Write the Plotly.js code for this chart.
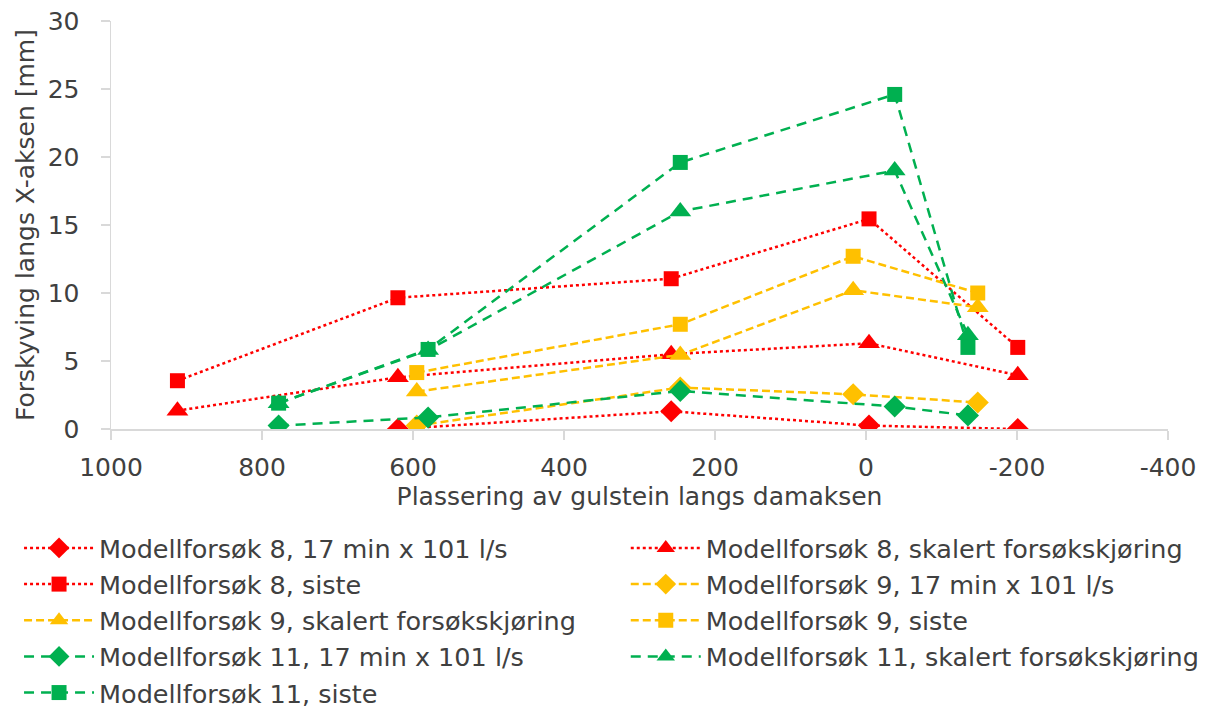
<!DOCTYPE html>
<html>
<head>
<meta charset="utf-8">
<script src="https://cdn.plot.ly/plotly-3.0.1.min.js"></script>
<style>html,body{margin:0;padding:0;background:#fff}#chart{width:1221px;height:715px}</style>
</head>
<body>
<div id="chart"></div>
<script>
// Positions along the dam axis (x values)
const x8_17 = [620, 258, -4, -201];
const x8 = [912, 620, 258, -4, -201];
const x9 = [595, 246, 17, -148];
const x11 = [778, 580, 246, -38, -135];

// Displacement values [mm]
const m8_17 = [0.0, 1.3, 0.25, 0.0];
const m8_skal = [1.35, 3.8, 5.5, 6.3, 3.95];
const m8_siste = [3.55, 9.65, 11.05, 15.45, 6.0];
const m9_17 = [0.25, 3.05, 2.55, 1.95];
const m9_skal = [2.75, 5.45, 10.2, 8.95];
const m9_siste = [4.15, 7.7, 12.7, 10.0];
const m11_17 = [0.25, 0.85, 2.8, 1.65, 1.0];
const m11_skal = [1.9, 5.8, 16.0, 19.0, 6.9];
const m11_siste = [1.9, 5.85, 19.6, 24.6, 6.0];

const names = [
  "Modellforsøk 8, 17 min x 101 l/s",
  "Modellforsøk 8, skalert forsøkskjøring",
  "Modellforsøk 8, siste",
  "Modellforsøk 9, 17 min x 101 l/s",
  "Modellforsøk 9, skalert forsøkskjøring",
  "Modellforsøk 9, siste",
  "Modellforsøk 11, 17 min x 101 l/s",
  "Modellforsøk 11, skalert forsøkskjøring",
  "Modellforsøk 11, siste"
];
const xTicks = [1000, 800, 600, 400, 200, 0, -200, -400];
const xTickText = ["1000", "800", "600", "400", "200", "0", "-200", "-400"];
const yTicks = [0, 5, 10, 15, 20, 25, 30];

const RED = "#FF0000", YEL = "#FFC000", GRN = "#00B050";
const redDash = "dot", yelDash = "8px,4px", grnDash = "10px,7px";

function tr(name, x, y, color, dash, symbol, size, leg) {
  return {
    type: "scatter", mode: "lines+markers", name: name, x: x, y: y,
    legend: leg,
    line: {color: color, width: 2.5, dash: dash},
    marker: {color: color, symbol: symbol, size: size, line: {width: 0}}
  };
}
const data = [
  tr(names[0], x8_17, m8_17, RED, redDash, "diamond", 17, "legend"),
  tr(names[1], x8, m8_skal, RED, redDash, "triangle-up", 19, "legend2"),
  tr(names[2], x8, m8_siste, RED, redDash, "square", 15, "legend"),
  tr(names[3], x9, m9_17, YEL, yelDash, "diamond", 17, "legend2"),
  tr(names[4], x9, m9_skal, YEL, yelDash, "triangle-up", 19, "legend"),
  tr(names[5], x9, m9_siste, YEL, yelDash, "square", 15, "legend2"),
  tr(names[6], x11, m11_17, GRN, grnDash, "diamond", 17, "legend"),
  tr(names[7], x11, m11_skal, GRN, grnDash, "triangle-up", 19, "legend2"),
  tr(names[8], x11, m11_siste, GRN, grnDash, "square", 15, "legend")
];

const FONT = "'DejaVu Sans', sans-serif";
const TXT = "#404040";
const legendBase = {
  orientation: "v", yanchor: "top", xanchor: "left", itemwidth: 70,
  font: {size: 25.5, color: TXT}, traceorder: "normal", bgcolor: "rgba(0,0,0,0)",
  borderwidth: 0
};
const layout = {
  width: 1221, height: 715,
  margin: {l: 111, r: 53, t: 21, b: 286, autoexpand: false},
  paper_bgcolor: "#fff", plot_bgcolor: "#fff",
  font: {family: FONT, size: 25, color: TXT},
  showlegend: true,
  xaxis: {
    range: [1000, -400], tickvals: xTicks, ticktext: xTickText,
    showgrid: false, zeroline: false, showline: true, linecolor: "#D9D9D9", linewidth: 1.5,
    ticks: "outside", ticklen: 9, tickcolor: "#D9D9D9", tickwidth: 1.5, ticklabelstandoff: 6,
    tickfont: {size: 25, color: TXT},
    title: {text: "Plassering av gulstein langs damaksen", font: {size: 25, color: TXT}, standoff: 6}
  },
  yaxis: {
    range: [0, 30], tickvals: yTicks,
    showgrid: false, zeroline: false, showline: true, linecolor: "#D9D9D9", linewidth: 1.5,
    ticks: "outside", ticklen: 9, tickcolor: "#D9D9D9", tickwidth: 1.5, ticklabelstandoff: 16,
    tickfont: {size: 25, color: TXT},
    title: {text: "Forskyving langs X-aksen [mm]", font: {size: 25, color: TXT}, standoff: 6}
  },
  legend: Object.assign({}, legendBase, {x: -0.087, y: -0.235}),
  legend2: Object.assign({}, legendBase, {x: 0.487, y: -0.235})
};
Plotly.newPlot("chart", data, layout, {displayModeBar: false, staticPlot: true});
</script>
</body>
</html>
